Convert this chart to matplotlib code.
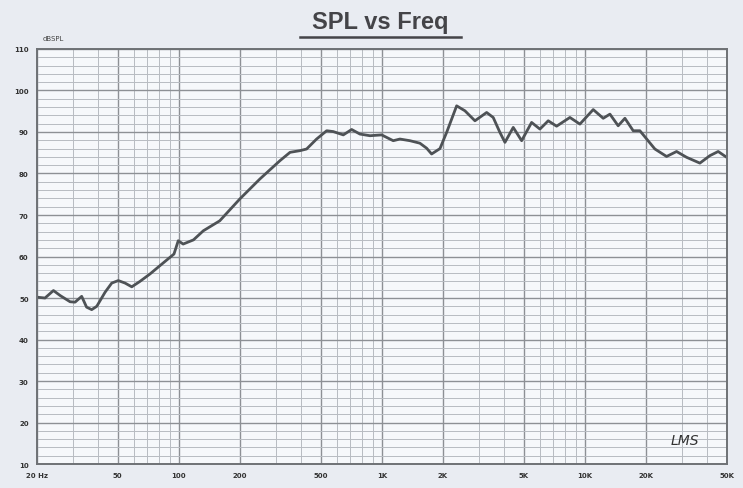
import matplotlib.pyplot as plt
import numpy as np
from matplotlib.lines import Line2D
from matplotlib.ticker import FixedLocator, LogLocator, NullFormatter

# curve (Hz, dB SPL)
freq = [20, 21.9, 24.1, 26, 29.1, 30.8, 33.2, 35.1, 37.2, 39.4, 43.3, 46.7,
        50.3, 54.3, 58.6, 64.3, 72.1, 80.7, 90.4, 94.6, 99.3, 105, 118, 132,
        159, 200, 251, 315, 353, 395, 426, 477, 535, 576, 646, 710, 780, 874,
        998, 1138, 1228, 1376, 1540, 1662, 1759, 1934, 2086, 2337, 2568, 2876,
        3284, 3538, 3818, 4042, 4441, 4884, 5470, 6011, 6604, 7262, 8446, 9460,
        11003, 12326, 13300, 14604, 15766, 17318, 18684, 22150, 25294, 28330,
        31736, 36900, 41340, 45420, 50000]
spl = [50.2, 50.0, 51.8, 50.6, 49.1, 49.0, 50.4, 47.8, 47.2, 48.0, 51.4, 53.6,
       54.2, 53.6, 52.7, 54.0, 55.8, 57.8, 59.8, 60.6, 63.8, 63.0, 64.0, 66.2,
       68.6, 73.9, 78.7, 83.1, 85.1, 85.5, 85.9, 88.3, 90.3, 90.1, 89.3, 90.6,
       89.5, 89.1, 89.3, 87.9, 88.3, 87.9, 87.3, 86.1, 84.7, 86.0, 89.9, 96.3,
       95.1, 92.7, 94.7, 93.5, 89.9, 87.5, 91.1, 87.9, 92.3, 90.7, 92.7, 91.4,
       93.5, 91.9, 95.4, 93.3, 94.3, 91.5, 93.3, 90.3, 90.3, 85.9, 84.1, 85.3,
       83.9, 82.5, 84.3, 85.3, 83.9]

xticks = [20, 50, 100, 200, 500, 1000, 2000, 5000, 10000, 20000, 50000]
xlabels = ['20 Hz', '50', '100', '200', '500', '1K', '2K', '5K', '10K', '20K', '50K']
yticks = [10, 20, 30, 40, 50, 60, 70, 80, 90, 100, 110]

fig = plt.figure(figsize=(7.43, 4.89), dpi=100)
fig.patch.set_facecolor('#e9ecf2')
ax = fig.add_axes([0.0498, 0.049, 0.9282, 0.8488])
ax.set_facecolor('#f6f8fb')

ax.set_xscale('log')
ax.set_xlim(20, 50000)
ax.set_ylim(10, 110)

ax.xaxis.set_minor_locator(LogLocator(base=10, subs=np.arange(2, 10) * 1.0, numticks=20))
ax.xaxis.set_minor_formatter(NullFormatter())
ax.set_xticks(xticks)
ax.set_xticklabels(xlabels)
ax.set_yticks(yticks)
ax.set_yticklabels([str(v) for v in yticks])
ax.yaxis.set_minor_locator(FixedLocator(np.arange(10, 111, 2)))

ax.grid(which='major', color='#8d9095', linewidth=1.0)
ax.grid(which='minor', color='#b8bcc2', linewidth=0.7)
ax.tick_params(which='both', length=0, labelsize=5, colors='#333333', pad=6)
for lbl in ax.get_xticklabels() + ax.get_yticklabels():
    lbl.set_fontweight('bold')
for s in ax.spines.values():
    s.set_color('#6e7175')
    s.set_linewidth(1.4)

ax.plot(freq, spl, color='#4e5256', linewidth=2.0)

fig.text(0.058, 0.917, 'dBSPL', fontsize=5, color='#444444')
ax.text(0.96, 0.04, 'LMS', transform=ax.transAxes, fontsize=10, style='italic',
        color='#333333', ha='right', va='bottom')

fig.text(0.512, 0.953, 'SPL vs Freq', fontsize=17, fontweight='bold',
         family='Liberation Sans', color='#444448', ha='center', va='center')
fig.add_artist(Line2D([0.404, 0.62], [0.922, 0.922], color='#444448', linewidth=1.8))

fig.savefig('out.png', dpi=100, facecolor=fig.get_facecolor())
